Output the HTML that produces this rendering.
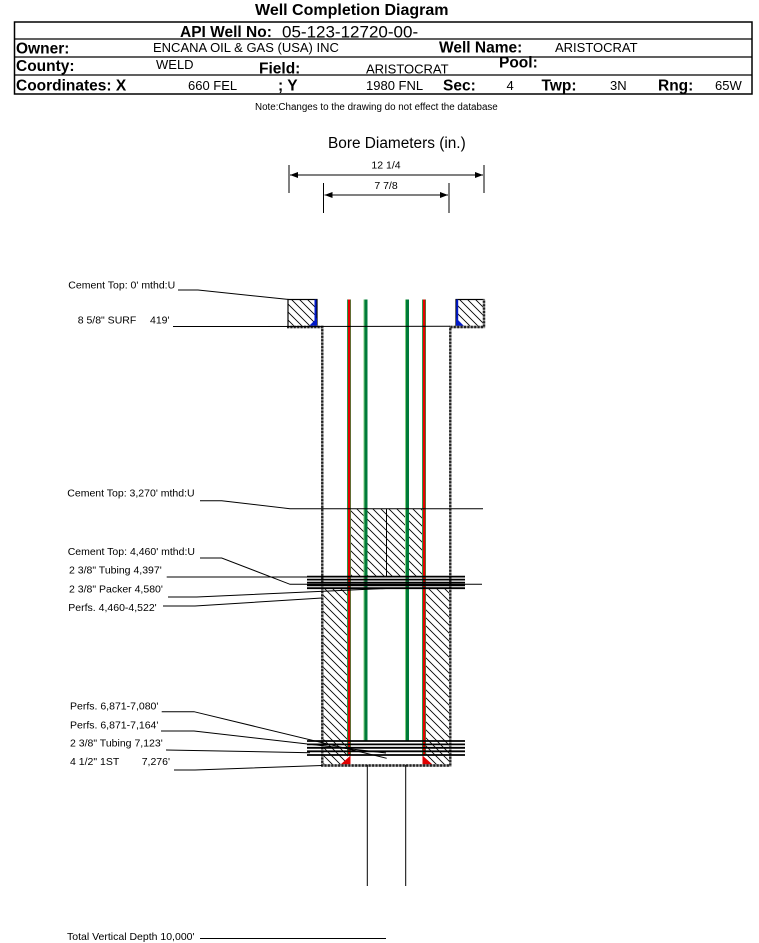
<!DOCTYPE html>
<html><head><meta charset="utf-8"><style>
html,body{margin:0;padding:0;background:#fff;}
svg{display:block;font-family:"Liberation Sans",Arial,sans-serif;}
</style></head><body>
<svg width="759" height="943" viewBox="0 0 759 943" xmlns="http://www.w3.org/2000/svg">
<defs>
<pattern id="h" width="8" height="8" patternUnits="userSpaceOnUse"><path d="M-1,-1L9,9M-1,7L1,9M7,-1L9,1" stroke="#000" stroke-width="0.85"/></pattern>
<marker id="ar" markerWidth="8" markerHeight="6" refX="8" refY="3" orient="auto" markerUnits="userSpaceOnUse"><path d="M0,0L8,3L0,6z" fill="#000"/></marker>
</defs>
<rect width="759" height="943" fill="#fff"/>
<!-- header -->
<text x="255" y="15" font-weight="bold" font-size="16">Well Completion Diagram</text>
<rect x="14.5" y="22" width="737.5" height="72" fill="none" stroke="#000" stroke-width="1.5"/>
<line x1="14" y1="39" x2="752" y2="39" stroke="#000" stroke-width="1.2"/>
<line x1="14" y1="57" x2="752" y2="57" stroke="#000" stroke-width="1.2"/>
<line x1="14" y1="75" x2="752" y2="75" stroke="#000" stroke-width="1.2"/>
<g font-weight="bold" font-size="15.5">
<text x="180" y="37">API Well No:</text>
<text x="16" y="53.5">Owner:</text>
<text x="439" y="52.5">Well Name:</text>
<text x="16" y="71">County:</text>
<text x="259" y="73.5">Field:</text>
<text x="499" y="67.5">Pool:</text>
<text x="16" y="90.5">Coordinates: X</text>
<text x="278" y="90.5">; Y</text>
<text x="443" y="90.5">Sec:</text>
<text x="541.5" y="90.5">Twp:</text>
<text x="658" y="90.5">Rng:</text>
</g>
<text x="282" y="37.3" font-size="17">05-123-12720-00-</text>
<g font-size="13">
<text x="153" y="52">ENCANA OIL &amp; GAS (USA) INC</text>
<text x="555" y="52">ARISTOCRAT</text>
<text x="156" y="69">WELD</text>
<text x="366" y="73.5">ARISTOCRAT</text>
<text x="188" y="90">660 FEL</text>
<text x="366" y="90">1980 FNL</text>
<text x="506.5" y="90">4</text>
<text x="610" y="90">3N</text>
<text x="715" y="90">65W</text>
</g>
<text x="255" y="110" font-size="9.8">Note:Changes to the drawing do not effect the database</text>

<!-- bore diameters -->
<text x="328" y="148" font-size="15.4">Bore Diameters (in.)</text>
<text x="386" y="168.3" font-size="10.5" text-anchor="middle">12 1/4</text>
<text x="386" y="189" font-size="10.5" text-anchor="middle">7 7/8</text>
<g stroke="#000" stroke-width="1">
<line x1="289" y1="165" x2="289" y2="193"/>
<line x1="484" y1="165" x2="484" y2="193"/>
<line x1="386" y1="175" x2="290" y2="175" marker-end="url(#ar)"/>
<line x1="386" y1="175" x2="483" y2="175" marker-end="url(#ar)"/>
<line x1="323.5" y1="183" x2="323.5" y2="213"/>
<line x1="449" y1="183" x2="449" y2="213"/>
<line x1="386" y1="195" x2="324.5" y2="195" marker-end="url(#ar)"/>
<line x1="386" y1="195" x2="448" y2="195" marker-end="url(#ar)"/>
</g>

<!-- cement regions -->
<rect x="288" y="299.5" width="29" height="27.5" fill="url(#h)" stroke="#000" stroke-width="1.2"/>
<rect x="456" y="299.5" width="28" height="27.5" fill="url(#h)" stroke="#000" stroke-width="1.2"/>
<line x1="315.5" y1="299.5" x2="315.5" y2="327" stroke="#0018c8" stroke-width="2"/>
<line x1="457.2" y1="299.5" x2="457.2" y2="327" stroke="#0018c8" stroke-width="2"/>
<path d="M308,327L317,318L317,327z" fill="#0018c8"/>
<path d="M456,318L456,327L465,327z" fill="#0018c8"/>

<rect x="350" y="508.7" width="73" height="67.5" fill="url(#h)"/>
<line x1="386.5" y1="508.7" x2="386.5" y2="576" stroke="#000" stroke-width="1"/>
<rect x="323" y="588" width="25" height="177" fill="url(#h)"/>
<rect x="426" y="588" width="23" height="177" fill="url(#h)"/>
<rect x="351" y="755.5" width="71" height="9" fill="#fff"/>
<path d="M340,765L350.5,755.5L350.5,765z" fill="#e00000"/>
<path d="M422.5,755.5L422.5,765L433,765z" fill="#e00000"/>

<!-- tubing -->
<rect x="347" y="299.5" width="4" height="456" fill="#2a9a4a"/>
<rect x="348" y="299.5" width="2.3" height="456" fill="#e60000"/>
<rect x="422" y="299.5" width="4" height="456" fill="#2a9a4a"/>
<rect x="423" y="299.5" width="2.3" height="456" fill="#e60000"/>
<rect x="363.5" y="299.5" width="4" height="441" fill="#7fcf7f"/>
<rect x="364.5" y="299.5" width="3" height="441" fill="#007a3a"/>
<rect x="405" y="299.5" width="4" height="441" fill="#7fcf7f"/>
<rect x="406" y="299.5" width="3" height="441" fill="#007a3a"/>

<!-- casing -->
<g stroke-width="2.4">
<path d="M287,327H322.3V765.5H450.3V327H484V299.5" fill="none" stroke="#999"/>
<path d="M287,327H322.3V765.5H450.3V327H484V299.5" fill="none" stroke="#222" stroke-dasharray="2 1.4"/>
</g>

<!-- leader lines -->
<g stroke="#000" stroke-width="1" fill="none">
<polyline points="178,290 198,290 289,299.5"/>
<polyline points="173,326.5 450,326.3"/>
<polyline points="200,500.7 221.7,500.7 290,508.7 483,508.7"/>
<polyline points="200,558 221.7,558 290,584.3 482,584.3"/>
<polyline points="166.7,577 307,577"/>
<polyline points="168,597 196.7,597 386,588.5"/>
<polyline points="163,606 195,606 322,598"/>
<polyline points="161.7,711.7 194,711.7 386.7,758.3"/>
<polyline points="161,731 194,731 386,753"/>
<polyline points="166,750 310,752.7"/>
<polyline points="174,770 195,770 322,765.5"/>
<line x1="367.3" y1="765" x2="367.3" y2="886"/>
<line x1="405.7" y1="765" x2="405.7" y2="886"/>
<line x1="200" y1="938.5" x2="386" y2="938.5"/>
</g>

<!-- packer / tubing thick lines -->
<g stroke="#000" stroke-width="1.8">
<line x1="307" y1="576.6" x2="465" y2="576.6"/>
<line x1="307" y1="579.6" x2="465" y2="579.6"/>
<line x1="307" y1="582.6" x2="465" y2="582.6"/>
<line x1="307" y1="585.4" x2="465" y2="585.4"/>
<line x1="307" y1="588.2" x2="465" y2="588.2"/>
<line x1="307" y1="741" x2="465" y2="741"/>
<line x1="307" y1="744.4" x2="465" y2="744.4"/>
<line x1="307" y1="747.8" x2="465" y2="747.8"/>
<line x1="307" y1="751.3" x2="465" y2="751.3"/>
<line x1="307" y1="755" x2="465" y2="755"/>
</g>

<!-- labels -->
<g font-size="10.5">
<text x="68.3" y="288.3">Cement Top: 0' mthd:U</text>
<text x="77.7" y="323.3">8 5/8" SURF</text>
<text x="150" y="323.3">419'</text>
<text x="67.3" y="496.7">Cement Top: 3,270' mthd:U</text>
<text x="67.7" y="555">Cement Top: 4,460' mthd:U</text>
<text x="69" y="573.3">2 3/8" Tubing 4,397'</text>
<text x="69" y="592.7">2 3/8" Packer 4,580'</text>
<text x="68.3" y="611">Perfs. 4,460-4,522'</text>
<text x="70" y="709.3">Perfs. 6,871-7,080'</text>
<text x="70" y="728.3">Perfs. 6,871-7,164'</text>
<text x="70" y="746.7">2 3/8" Tubing 7,123'</text>
<text x="70" y="765">4 1/2" 1ST</text>
<text x="141.7" y="765">7,276'</text>
<text x="67" y="940">Total Vertical Depth 10,000'</text>
</g>
</svg>
</body></html>
